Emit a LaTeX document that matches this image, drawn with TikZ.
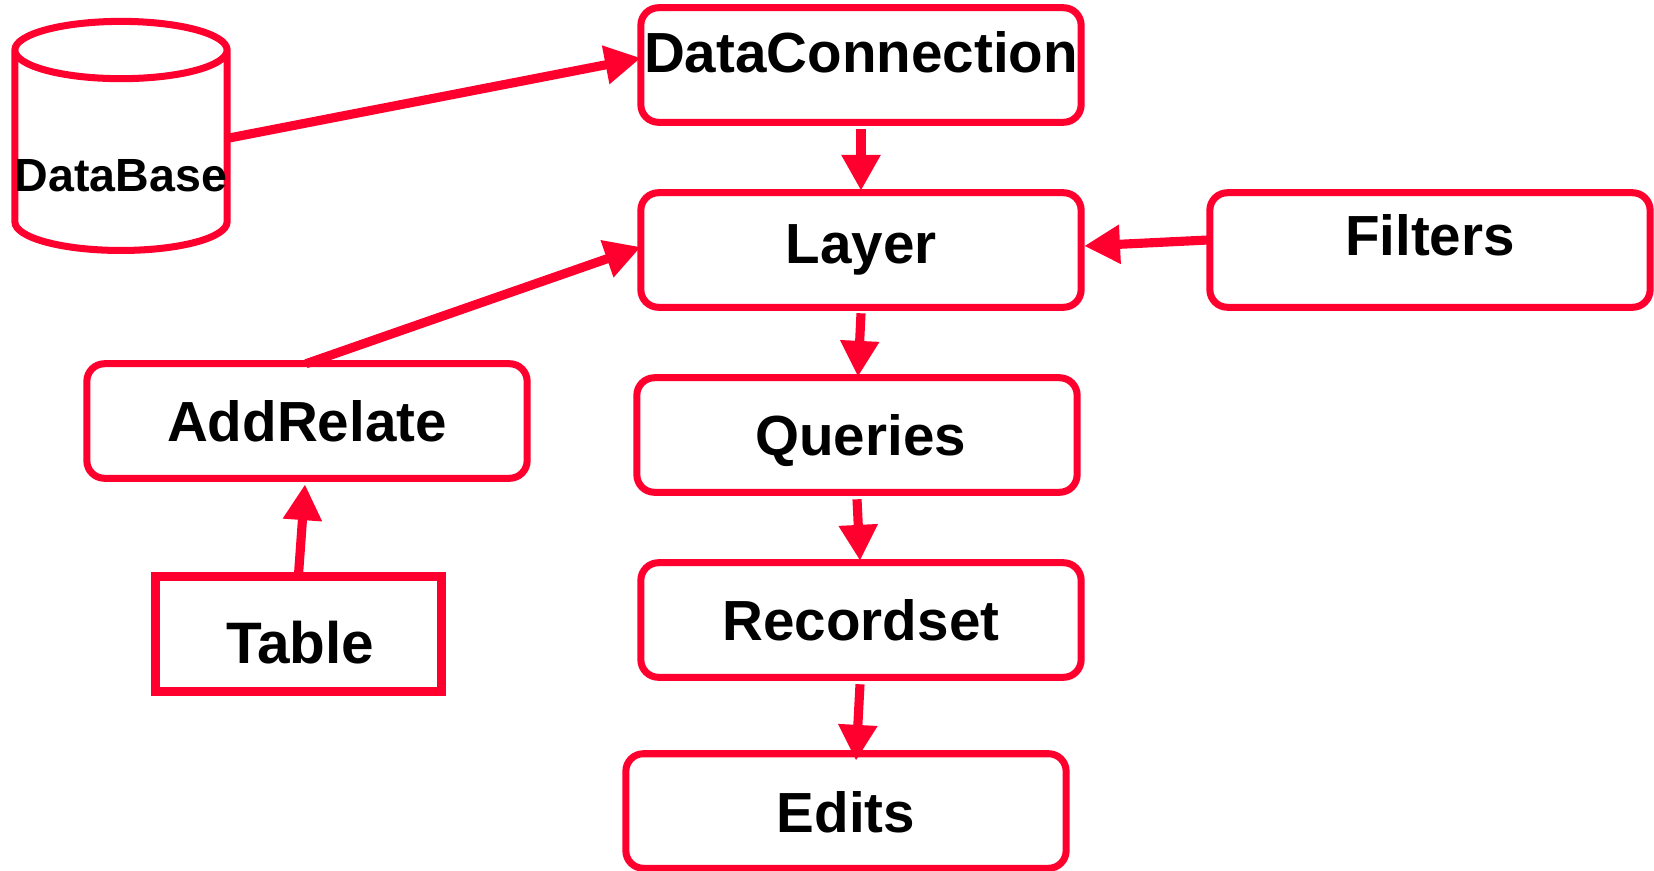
\documentclass[tikz,border=0pt]{standalone}
\usepackage{fontspec}
\setmainfont{Liberation Sans}
\usetikzlibrary{arrows.meta,shapes.geometric}

\definecolor{flowred}{RGB}{255,0,46}

\tikzstyle{tbox} = [draw=flowred,line width=4pt,outer sep=0,inner sep=0,minimum width=250.6pt,minimum height=65.2pt,rounded corners=10pt,font=\fontsize{32.2}{38}\selectfont\bfseries,text=black,text depth=0pt]
\tikzstyle{tsquare} = [draw=flowred,line width=5pt,outer sep=0,inner sep=0,minimum width=162.7pt,minimum height=65.2pt,font=\fontsize{33.3}{38}\selectfont\bfseries,text=black,text depth=0pt]
\tikzstyle{tdb} = [draw=flowred,line width=4pt,outer sep=0,inner sep=0,shape=cylinder,shape border rotate=90,shape aspect=0.27,minimum width=120.8pt,minimum height=130.4pt,font=\fontsize{26.5}{30}\selectfont\bfseries,text=black,text depth=0pt]
\tikzstyle{flow} = [-{Triangle[length=20.4pt,width=21pt]},draw=flowred,line width=5.2pt]

\begin{document}
\begin{tikzpicture}[x=0.02cm,y=-0.02cm]
\useasboundingbox (0,0) rectangle (1654,870);

\node [tdb,text height=44.5pt] (db) at (121,152) {DataBase};

\node [tbox,text height=9pt] (dc) at (861,65) {DataConnection};
\node [tbox,text height=15.9pt] (layer) at (861,250) {Layer};
\node [tbox,text height=6.8pt] (filters) at (1430,250) {Filters};
\node [tbox,text height=23.8pt] (queries) at (857,435) {\hspace{4.2pt}Queries};
\node [tbox,text height=23.8pt] (recordset) at (861,620) {Recordset};
\node [tbox,text height=25pt] (edits) at (846,811) {Edits};

\node [tbox,text height=23.8pt] (addrelate) at (307,421) {AddRelate};
\node [tsquare,text height=33pt] (table) at (298.5,634) {\hspace{2pt}Table};

% LEFT
\draw[flow] ([shift={(2,-14)}]db.east) -- ([shift={(0,-7)}]dc.west);
\draw[flow] ([shift={(-1,0)}]addrelate.north) -- ([shift={(0,-3)}]layer.west);
\draw[flow] ([shift={(0,-2)}]table.north) -- ([shift={(-2,6)}]addrelate.south);

% RIGHT
\draw[flow] ([shift={(-2,-10)}]filters.west) -- ([shift={(3,-4)}]layer.east);

% DOWN
\draw[flow] ([shift={(0,7)}]dc.south) -- ([shift={(0,-2)}]layer.north);
\draw[flow] ([shift={(0,6)}]layer.south) -- ([shift={(1,-1)}]queries.north);
\draw[flow] ([shift={(0,7)}]queries.south) -- ([shift={(-1,-2)}]recordset.north);
\draw[flow] ([shift={(-1,7)}]recordset.south) -- ([shift={(10,7)}]edits.north);
\end{tikzpicture}
\end{document}
